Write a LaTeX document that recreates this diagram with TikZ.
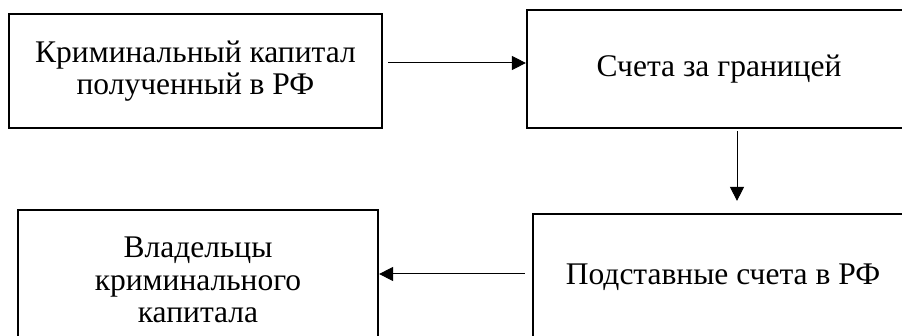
\documentclass[tikz,border=0pt]{standalone}
\usepackage{fontspec}
\setmainfont{Liberation Serif}
\usetikzlibrary{arrows.meta}
\tikzset{
  boxnode/.style={draw=black, line width=2.2pt, align=center, inner sep=0pt,
    font=\fontsize{31.5}{32.5}\selectfont},
  conn/.style={line width=1pt, -{Triangle[length=14pt,width=14pt]}}
}
\begin{document}
\begin{tikzpicture}[x=1pt,y=-1pt]
\useasboundingbox (0,0) rectangle (902,336);
\clip (0,0) rectangle (902,336);
\node[boxnode, minimum width=373pt, minimum height=114pt] (b1) at (195.5,71) {Криминальный капитал\\полученный в РФ};
\node[boxnode, minimum width=384pt, minimum height=118pt] (b2) at (719,69) {Счета за границей};
\node[boxnode, minimum width=380pt, minimum height=126pt] (b3) at (723,277) {Подставные счета в РФ};
\node[boxnode, minimum width=360pt, minimum height=140pt] (b4) at (198,280) {Владельцы\\криминального\\капитала};
\draw[conn] ([shift={(5,-8)}]b1.east) -- ([shift={(0,-6)}]b2.west);
\draw[conn] ([shift={(18,2)}]b2.south) -- ([shift={(14,-12)}]b3.north);
\draw[conn] ([shift={(-7,-3)}]b3.west) -- ([shift={(0,-6)}]b4.east);
\end{tikzpicture}
\end{document}
